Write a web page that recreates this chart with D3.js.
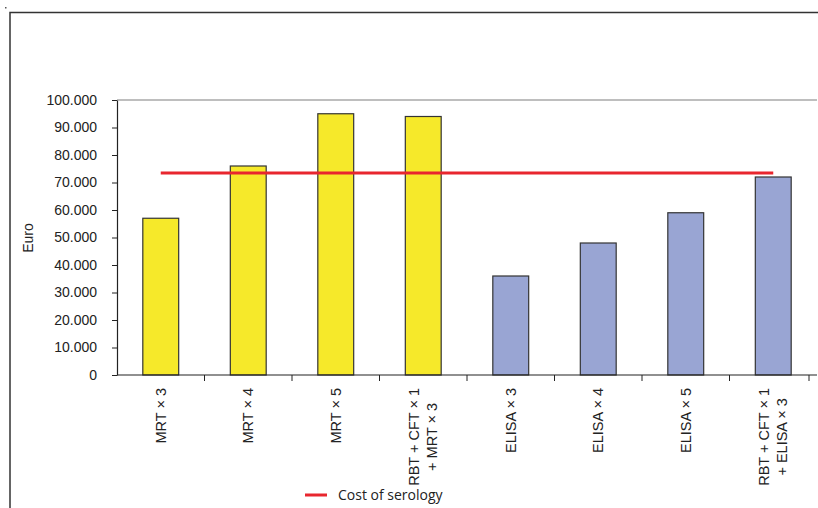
<!DOCTYPE html>
<html>
<head>
<meta charset="utf-8">
<script src="https://cdn.jsdelivr.net/npm/d3@7"></script>
<style>
  body { margin: 0; background: #fff; }
</style>
</head>
<body>
<svg id="chart"></svg>
<script>
const categories = [
  ["MRT × 3"], ["MRT × 4"], ["MRT × 5"], ["RBT + CFT × 1", "+ MRT × 3"],
  ["ELISA × 3"], ["ELISA × 4"], ["ELISA × 5"], ["RBT + CFT × 1", "+ ELISA × 3"]
];
const costs = [57000, 76000, 95000, 94000, 36000, 48000, 59000, 72000];
const groups = ["MRT", "MRT", "MRT", "MRT", "ELISA", "ELISA", "ELISA", "ELISA"];
const serology = [73500, 73500, 73500, 73500, 73500, 73500, 73500, 73500];
const yTicks = [0, 10000, 20000, 30000, 40000, 50000, 60000, 70000, 80000, 90000, 100000];

const W = 818, H = 508;
const margin = { top: 100, right: 1, bottom: 133, left: 117 };
const width = W - margin.left - margin.right;
const height = H - margin.top - margin.bottom;

const svg = d3.select("#chart").attr("width", W).attr("height", H);

// outer frame (top and left edges only visible)
svg.append("path")
  .attr("d", `M10,${H} V12.5 H${W}`)
  .attr("fill", "none").attr("stroke", "#333").attr("stroke-width", 1.5);
svg.append("rect").attr("x", 5).attr("y", 7).attr("width", 1.5).attr("height", 1.5).attr("fill", "#555");

const g = svg.append("g").attr("transform", `translate(${margin.left},${margin.top})`);

const ids = categories.map((d, i) => i);
const x = d3.scaleBand().domain(ids).range([0, width]).paddingInner(0.59).paddingOuter(0.295);
const xBand = d3.scaleBand().domain(ids).range([0, width]);
const y = d3.scaleLinear().domain([0, 100000]).range([height, 0]);

const color = d3.scaleOrdinal().domain(["MRT", "ELISA"]).range(["#f6e92a", "#99a5d3"]);

// top border of plot area
g.append("line").attr("x1", 0).attr("x2", width).attr("y1", 0).attr("y2", 0)
  .attr("stroke", "#a8a8a8").attr("stroke-width", 1.5);

// bars
g.selectAll(".bar").data(costs).enter().append("rect")
  .attr("class", "bar")
  .attr("x", (d, i) => x(i))
  .attr("y", d => y(d))
  .attr("width", x.bandwidth())
  .attr("height", d => y(0) - y(d))
  .attr("fill", (d, i) => color(groups[i]))
  .attr("stroke", "#333").attr("stroke-width", 1.2);

// y axis
const fmt = v => v === 0 ? "0" : d3.format(",")(v).replace(/,/g, ".");
const yAxis = g.append("g")
  .call(d3.axisLeft(y).tickValues(yTicks).tickSize(5).tickSizeOuter(0).tickFormat(fmt));
yAxis.select(".domain").attr("stroke", "#222").attr("stroke-width", 1.2);
yAxis.selectAll(".tick line").attr("stroke", "#222");
yAxis.selectAll("text").attr("x", -20)
  .style("font-family", "Liberation Sans, Arial, sans-serif").style("font-size", "14px").attr("fill", "#222");

// x axis
const xAxis = g.append("g").attr("transform", `translate(0,${height})`);
xAxis.append("line").attr("x1", 0).attr("x2", width).attr("stroke", "#222").attr("stroke-width", 1.2);
xAxis.selectAll(".xt").data(ids.slice(1).concat([8])).enter().append("line")
  .attr("x1", d => d < 8 ? xBand(d) : width - 8).attr("x2", d => d < 8 ? xBand(d) : width - 8)
  .attr("y1", 0).attr("y2", 6).attr("stroke", "#222");

const labels = xAxis.selectAll(".xl").data(categories).enter().append("text")
  .attr("transform", (d, i) => `translate(${xBand(i) + xBand.bandwidth() / 2},13) rotate(-90)`)
  .attr("text-anchor", "middle")
  .style("font-family", "Liberation Sans, Arial, sans-serif")
  .style("font-size", "14.5px").attr("fill", "#222");
labels.each(function (d) {
  const t = d3.select(this);
  const n = d.length;
  const spans = d.map((line, k) => t.append("tspan")
    .attr("y", (k - (n - 1) / 2) * 18 + 5)
    .text(line));
  const len = spans[0].node().getComputedTextLength();
  spans.forEach(s => s.attr("x", -len / 2));
});

// cost of serology line
const line = d3.line().x((d, i) => xBand(i) + xBand.bandwidth() / 2).y(d => y(d));
g.append("path").datum(serology)
  .attr("d", line).attr("fill", "none").attr("stroke", "#e8262e").attr("stroke-width", 3);

// y label
svg.append("text")
  .attr("transform", `translate(33,238) rotate(-90)`)
  .attr("text-anchor", "middle")
  .style("font-family", "Liberation Sans, Arial, sans-serif").style("font-size", "14px").attr("fill", "#222")
  .text("Euro");

// legend
const legend = svg.append("g").attr("transform", "translate(305,495)");
legend.append("line").attr("x1", 0).attr("x2", 22).attr("stroke", "#e8262e").attr("stroke-width", 3);
legend.append("text").attr("x", 33).attr("y", 5)
  .style("font-family", "Open Sans, DejaVu Sans, sans-serif").style("font-size", "14px").attr("fill", "#222")
  .text("Cost of serology");
</script>
</body>
</html>
